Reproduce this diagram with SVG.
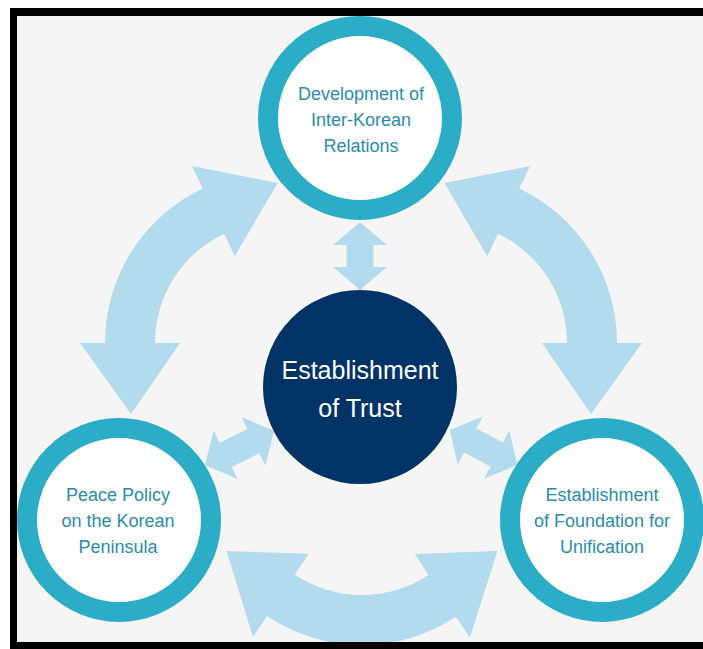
<svg xmlns="http://www.w3.org/2000/svg" width="703" height="649" viewBox="0 0 703 649">
  <style>
    .arrow { fill: #b2dbee; }
    .ring { fill: #ffffff; stroke: #2badc7; stroke-width: 20; }
    .lbl { font-family: "Liberation Sans", Arial, sans-serif; font-size: 18px; fill: #2a8cab; text-anchor: middle; }
    .core { fill: #013466; }
    .corelbl { font-family: "Liberation Sans", Arial, sans-serif; font-size: 25px; fill: #ffffff; text-anchor: middle; }
  </style>
  <rect x="0" y="0" width="703" height="649" fill="#ffffff"/>
  <rect x="10" y="8" width="693" height="641" fill="#000000"/>
  <rect x="17" y="16" width="686" height="626" fill="#f5f5f5"/>

  <g id="connectors">
    <path class="arrow" d="M131,414 L80,343 L105,343 A171,171 0 0 1 202.7,188.5 L191.9,166 L277.5,183 L234.8,256.3 L224.1,233.7 A121,121 0 0 0 155,343 L180,343 Z"/>
    <path class="arrow" d="M591,414 L642,343 L617,343 A171,171 0 0 0 519.3,188.5 L530.1,166 L444.5,183 L487.2,256.3 L497.9,233.7 A121,121 0 0 1 567,343 L542,343 Z"/>
    <path class="arrow" d="M497.5,551 L469.9,637.6 L456.1,616.8 A171,171 0 0 1 266.9,616.1 L253,636.9 L226.5,551 L308.6,553.8 L294.7,574.6 A121,121 0 0 0 428.6,575 L414.8,554.1 Z"/>
    <path class="arrow" transform="translate(360,256) rotate(90)" d="M34,0 L11,-27 L11,-13.5 L-11,-13.5 L-11,-27 L-34,0 L-11,27 L-11,13.5 L11,13.5 L11,27 Z"/>
    <path class="arrow" transform="translate(239.5,448) rotate(-26.2)" d="M38.5,0 L15.5,-27 L15.5,-13.5 L-15.5,-13.5 L-15.5,-27 L-38.5,0 L-15.5,27 L-15.5,13.5 L15.5,13.5 L15.5,27 Z"/>
    <path class="arrow" transform="translate(483.5,447.5) rotate(27.6)" d="M38,0 L15,-27 L15,-13.5 L-15,-13.5 L-15,-27 L-38,0 L-15,27 L-15,13.5 L15,13.5 L15,27 Z"/>
  </g>

  <g id="node-top">
    <circle class="ring" cx="360" cy="118" r="92"/>
    <text class="lbl" x="361" y="100">Development of</text>
    <text class="lbl" x="361" y="126">Inter-Korean</text>
    <text class="lbl" x="361" y="152">Relations</text>
  </g>

  <g id="node-left">
    <circle class="ring" cx="119" cy="520" r="92"/>
    <text class="lbl" x="118" y="501">Peace Policy</text>
    <text class="lbl" x="118" y="527">on the Korean</text>
    <text class="lbl" x="118" y="553">Peninsula</text>
  </g>

  <g id="node-right">
    <circle class="ring" cx="602" cy="520" r="92"/>
    <text class="lbl" x="602" y="501">Establishment</text>
    <text class="lbl" x="602" y="527">of Foundation for</text>
    <text class="lbl" x="602" y="553">Unification</text>
  </g>

  <g id="node-center">
    <circle class="core" cx="360" cy="387" r="97"/>
    <text class="corelbl" x="360" y="379">Establishment</text>
    <text class="corelbl" x="360" y="417">of Trust</text>
  </g>

  <rect x="10" y="642" width="693" height="7" fill="#000000"/>
</svg>
